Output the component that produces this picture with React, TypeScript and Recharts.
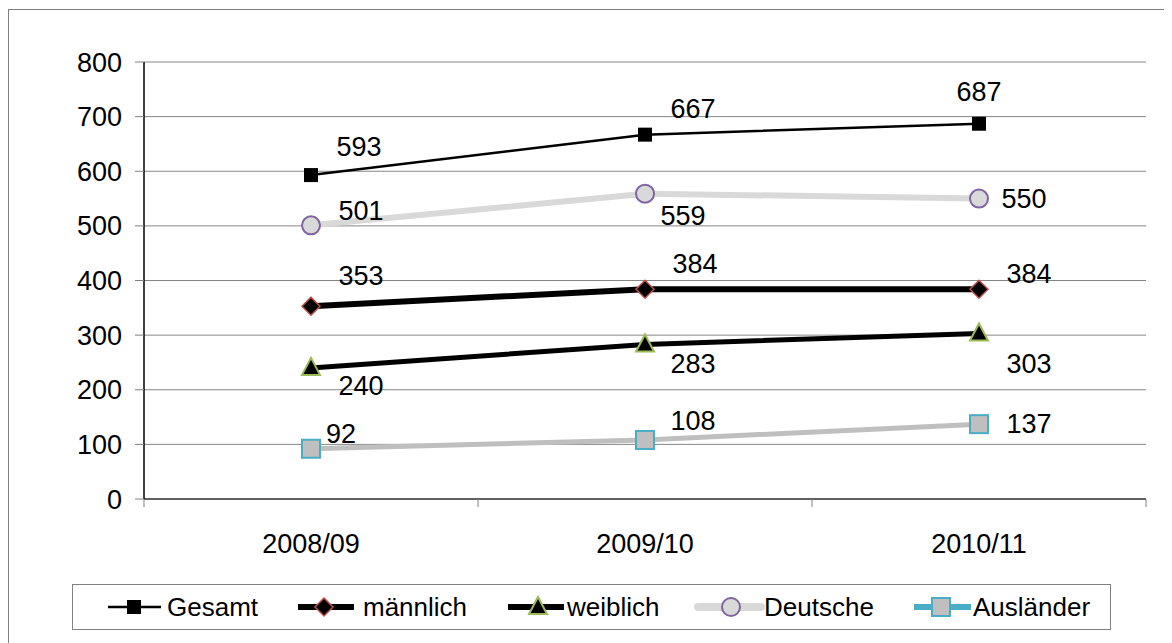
import { CartesianGrid, LabelList, Line, LineChart, XAxis, YAxis } from 'recharts'

const categories = ['2008/09', '2009/10', '2010/11']
const gesamt = [593, 667, 687]
const maennlich = [353, 384, 384]
const weiblich = [240, 283, 303]
const deutsche = [501, 559, 550]
const auslaender = [92, 108, 137]
const yTicks = [0, 100, 200, 300, 400, 500, 600, 700, 800]

const FONT = '"Liberation Sans", Arial, Helvetica, sans-serif'

const chartData = categories.map((cat, i) => ({
  x: i + 0.5,
  cat,
  gesamt: gesamt[i],
  maennlich: maennlich[i],
  weiblich: weiblich[i],
  deutsche: deutsche[i],
  auslaender: auslaender[i]
}))

// label offsets (dx, dy of text centre relative to the point)
const labelOffsets: Record<string, [number, number][]> = {
  gesamt: [[48, -28], [48, -26], [0, -32]],
  deutsche: [[50, -14], [38, 22], [45, 0]],
  maennlich: [[50, -30], [50, -25], [50, -15]],
  weiblich: [[50, 18], [48, 20], [50, 31]],
  auslaender: [[30, -15], [48, -19], [50, 0]]
}

function makeLabel(key: string) {
  return (props: any) => {
    const { x, y, value, index } = props
    const [dx, dy] = labelOffsets[key][index]
    return (
      <text
        x={x + dx}
        y={y + dy}
        textAnchor="middle"
        dominantBaseline="central"
        fontFamily={FONT}
        fontSize={27}
        fill="#000"
      >
        {value}
      </text>
    )
  }
}

type MarkerProps = { cx: number; cy: number; kind: string }

function Marker({ cx, cy, kind }: MarkerProps) {
  if (kind === 'gesamt') {
    return <rect x={cx - 7} y={cy - 7} width={14} height={14} fill="#000" />
  }
  if (kind === 'maennlich') {
    const r = 9
    return (
      <polygon
        points={`${cx},${cy - r} ${cx + r},${cy} ${cx},${cy + r} ${cx - r},${cy}`}
        fill="#000"
        stroke="#c0504d"
        strokeWidth={1.5}
      />
    )
  }
  if (kind === 'weiblich') {
    return (
      <polygon
        points={`${cx},${cy - 10} ${cx + 9},${cy + 7} ${cx - 9},${cy + 7}`}
        fill="#000"
        stroke="#9bbb59"
        strokeWidth={2}
      />
    )
  }
  if (kind === 'deutsche') {
    return <circle cx={cx} cy={cy} r={9} fill="#d9d9d9" stroke="#8064a2" strokeWidth={2} />
  }
  return <rect x={cx - 9} y={cy - 9} width={18} height={18} fill="#bfbfbf" stroke="#4bacc6" strokeWidth={2} />
}

function makeDot(kind: string) {
  return (props: any) => <Marker key={`${kind}-${props.index}`} cx={props.cx} cy={props.cy} kind={kind} />
}

function XTick(props: any) {
  const { x, y, payload } = props
  const v = payload.value
  if (Number.isInteger(v)) {
    return <line x1={x} y1={y} x2={x} y2={y + 8} stroke="#808080" strokeWidth={1} />
  }
  const label = categories[Math.floor(v)]
  return (
    <text x={x} y={y + 45} textAnchor="middle" dominantBaseline="central" fontFamily={FONT} fontSize={27} fill="#000">
      {label}
    </text>
  )
}

const legendItems = [
  { key: 'gesamt', name: 'Gesamt', line: '#000', width: 2.5, x0: 99, x1: 152, mx: 125, tx: 158 },
  { key: 'maennlich', name: 'männlich', line: '#000', width: 6, x0: 289, x1: 345, mx: 315, tx: 354 },
  { key: 'weiblich', name: 'weiblich', line: '#000', width: 6, x0: 499, x1: 555, mx: 529, tx: 558 },
  { key: 'deutsche', name: 'Deutsche', line: '#d9d9d9', width: 8, x0: 689, x1: 752, mx: 722, tx: 755 },
  { key: 'auslaender', name: 'Ausländer', line: '#4bacc6', width: 6, x0: 905, x1: 962, mx: 932, tx: 964 }
]

function LegendBox() {
  return (
    <svg
      width={1040}
      height={47}
      style={{ position: 'absolute', left: 63, top: 574, overflow: 'visible' }}
    >
      <rect x={0.5} y={0.5} width={1038} height={45} fill="#fff" stroke="#808080" strokeWidth={1} />
      {legendItems.map((it) => (
        <g key={it.key} transform="translate(-63, -574)">
          <line
            x1={it.x0}
            y1={597}
            x2={it.x1}
            y2={597}
            stroke={it.line}
            strokeWidth={it.width}
            strokeLinecap={it.key === 'deutsche' ? 'round' : 'butt'}
          />
          <Marker cx={it.mx} cy={597} kind={it.key} />
          <text x={it.tx} y={597} dominantBaseline="central" fontFamily={FONT} fontSize={26} fill="#000">
            {it.name}
          </text>
        </g>
      ))}
    </svg>
  )
}

export default function App() {
  return (
    <div
      style={{
        position: 'relative',
        width: 1158,
        height: 640,
        border: '1px solid #7f7f7f',
        boxSizing: 'border-box',
        marginTop: 1,
        background: '#fff'
      }}
    >
      <LineChart width={1150} height={630} data={chartData} margin={{ top: 52, right: 13, bottom: 101, left: 60 }}>
        <CartesianGrid vertical={false} stroke="#868686" strokeWidth={1} />
        <XAxis
          dataKey="x"
          type="number"
          domain={[0, 3]}
          ticks={[0, 0.5, 1, 1.5, 2, 2.5, 3]}
          interval={0}
          tickLine={false}
          tickSize={0}
          tickMargin={0}
          height={40}
          axisLine={{ stroke: '#404040', strokeWidth: 1.5 }}
          tick={<XTick />}
        />
        <YAxis
          domain={[0, 800]}
          ticks={yTicks}
          interval={0}
          width={75}
          tickSize={9}
          tickMargin={13}
          tickLine={{ stroke: '#808080' }}
          axisLine={{ stroke: '#000', strokeWidth: 1.5 }}
          tick={{ fontFamily: FONT, fontSize: 27, fill: '#000' }}
        />
        <Line dataKey="deutsche" stroke="#d9d9d9" strokeWidth={6} dot={makeDot('deutsche')} isAnimationActive={false}>
          <LabelList dataKey="deutsche" content={makeLabel('deutsche')} />
        </Line>
        <Line dataKey="auslaender" stroke="#bfbfbf" strokeWidth={5} dot={makeDot('auslaender')} isAnimationActive={false}>
          <LabelList dataKey="auslaender" content={makeLabel('auslaender')} />
        </Line>
        <Line dataKey="weiblich" stroke="#000" strokeWidth={5} dot={makeDot('weiblich')} isAnimationActive={false}>
          <LabelList dataKey="weiblich" content={makeLabel('weiblich')} />
        </Line>
        <Line dataKey="maennlich" stroke="#000" strokeWidth={6} dot={makeDot('maennlich')} isAnimationActive={false}>
          <LabelList dataKey="maennlich" content={makeLabel('maennlich')} />
        </Line>
        <Line dataKey="gesamt" stroke="#000" strokeWidth={2.5} dot={makeDot('gesamt')} isAnimationActive={false}>
          <LabelList dataKey="gesamt" content={makeLabel('gesamt')} />
        </Line>
      </LineChart>
      <LegendBox />
    </div>
  )
}
